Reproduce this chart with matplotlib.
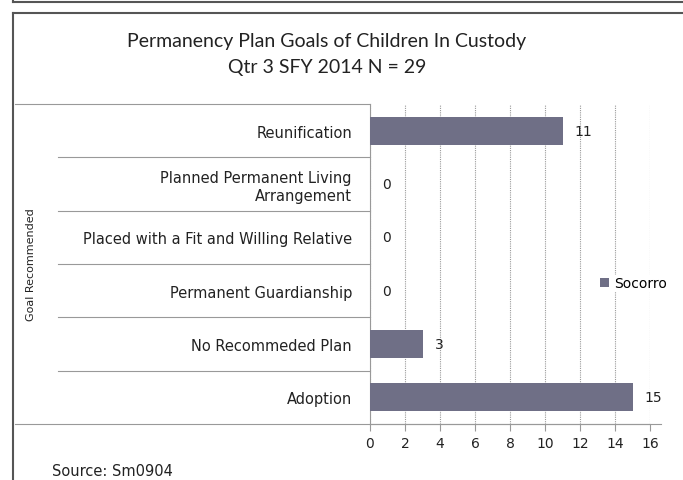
import matplotlib.pyplot as plt
from matplotlib.lines import Line2D

# data
goals = ["Reunification",
         "Planned Permanent Living\nArrangement",
         "Placed with a Fit and Willing Relative",
         "Permanent Guardianship",
         "No Recommeded Plan",
         "Adoption"]
counts = [11, 0, 0, 0, 3, 15]
x_ticks = [0, 2, 4, 6, 8, 10, 12, 14, 16]

bar_color = "#6f6f86"
frame_color = "#555555"
sep_color = "#999999"
text_color = "#222222"

fig = plt.figure(figsize=(6.83, 4.81), dpi=100)
ax = fig.add_axes([370 / 683, 1 - 425 / 481, 280 / 683, 320 / 481])

ypos = list(range(len(goals)))[::-1]
ax.barh(ypos, counts, height=0.53, color=bar_color, label="Socorro", zorder=3)

for y, v in zip(ypos, counts):
    ax.text(v + 0.7, y, str(v), va="center", ha="left", fontsize=10,
            fontfamily="DejaVu Sans", color=text_color)

ax.set_xlim(0, 16)
ax.set_ylim(-0.5, len(goals) - 0.5)
ax.set_xticks(x_ticks)
ax.set_yticks(ypos)
ax.set_yticklabels(goals, fontsize=10.5, fontfamily="DejaVu Sans", color=text_color)
ax.tick_params(axis="y", length=0, pad=13)
ax.tick_params(axis="x", length=5, direction="out", color=sep_color,
               labelsize=10, labelcolor=text_color, pad=4)
for lbl in ax.get_xticklabels():
    lbl.set_fontfamily("DejaVu Sans")

ax.grid(axis="x", linestyle=(0, (1, 1)), color="#9a9a9a", linewidth=0.8, zorder=0)
for s in ["top", "right"]:
    ax.spines[s].set_visible(False)
ax.spines["left"].set_color(sep_color)
ax.spines["bottom"].set_color(sep_color)

# category separator lines extending left of the axis
trans = ax.get_yaxis_transform()
for b in [0.5, 1.5, 2.5, 3.5, 4.5]:
    ax.add_line(Line2D([-312 / 280, 0], [b, b], transform=trans, color=sep_color,
                       linewidth=0.8, clip_on=False))
ax.add_line(Line2D([-355 / 280, 0], [5.5, 5.5], transform=trans, color=sep_color,
                   linewidth=0.8, clip_on=False))
ax.add_line(Line2D([-355 / 280, 1.04], [-0.5, -0.5], transform=trans, color=sep_color,
                   linewidth=0.8, clip_on=False))

ax.set_ylabel("Goal Recommended", fontsize=8, fontfamily="Liberation Sans Narrow",
              color=text_color)
ax.yaxis.set_label_coords(-334 / 280, 0.5)

leg = ax.legend(loc="center left", bbox_to_anchor=(222 / 280, 0.44), frameon=True,
                handlelength=0.6, handleheight=0.6, handletextpad=0.4,
                borderpad=0.1, prop={"family": "DejaVu Sans", "size": 10})
leg.get_frame().set_edgecolor("none")
leg.get_frame().set_facecolor("white")
leg.get_frame().set_alpha(1)

fig.text(327 / 683, 1 - 42 / 481, "Permanency Plan Goals of Children In Custody",
         ha="center", va="center", fontsize=14, fontfamily="Lato", color=text_color)
fig.text(327 / 683, 1 - 67 / 481, "Qtr 3 SFY 2014 N = 29",
         ha="center", va="center", fontsize=14, fontfamily="Lato", color=text_color)

fig.text(52 / 683, 1 - 472 / 481, "Source: Sm0904", ha="left", va="center",
         fontsize=10.5, fontfamily="DejaVu Sans", color=text_color)

# frame lines of the surrounding boxes
fig.add_artist(Line2D([13 / 683, 1], [1 - 14 / 481, 1 - 14 / 481],
                      transform=fig.transFigure, color=frame_color, linewidth=1.5))
fig.add_artist(Line2D([13 / 683, 13 / 683], [0, 1 - 14 / 481],
                      transform=fig.transFigure, color=frame_color, linewidth=1.5))
fig.add_artist(Line2D([13 / 683, 1], [1 - 3 / 481, 1 - 3 / 481],
                      transform=fig.transFigure, color=frame_color, linewidth=1.5))
fig.add_artist(Line2D([13 / 683, 13 / 683], [1 - 3 / 481, 1],
                      transform=fig.transFigure, color=frame_color, linewidth=1.5))

fig.savefig("out.png", dpi=100)
